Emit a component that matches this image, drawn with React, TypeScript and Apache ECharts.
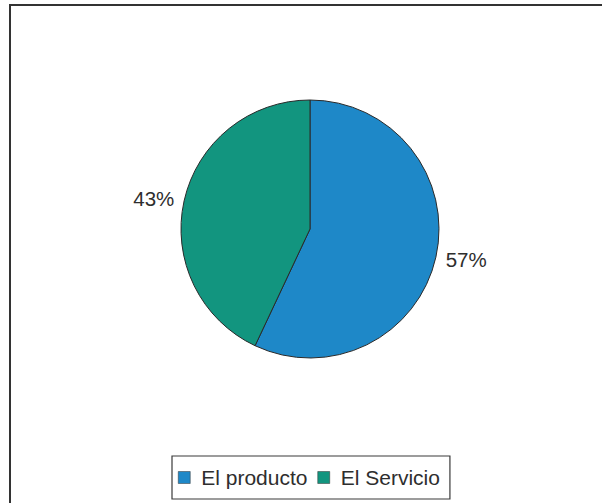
import React, { useEffect, useRef } from "react";
import * as echarts from "echarts";

const categories = ["El producto", "El Servicio"];
const values = [57, 43];
const colors = ["#1e88c8", "#12957f"];

export default function App() {
  const ref = useRef<HTMLDivElement>(null);
  useEffect(() => {
    document.body.style.margin = "0";
    const chart = echarts.init(ref.current!, null, { renderer: "svg" });
    chart.setOption({
      animation: false,
      backgroundColor: "#ffffff",
      textStyle: { fontFamily: "Liberation Sans, Arial, sans-serif" },
      graphic: [
        {
          type: "rect",
          shape: { x: 10, y: 5, width: 640, height: 540 },
          style: { fill: "none", stroke: "#333333", lineWidth: 2 },
          silent: true,
        },
      ],
      legend: {
        data: categories,
        left: 172,
        top: 456,
        orient: "horizontal",
        itemWidth: 12,
        itemHeight: 12,
        itemGap: 10,
        itemStyle: { borderColor: "#333333", borderWidth: 0.5 },
        padding: [11, 10, 11, 6],
        borderColor: "#3a3a3a",
        borderWidth: 1.2,
        icon: "rect",
        textStyle: {
          fontSize: 21,
          color: "#2e2e2e",
          padding: [0, 0, 0, 6],
          fontFamily: "Liberation Sans, Arial, sans-serif",
        },
      },
      series: [
        {
          type: "pie",
          center: [310, 229],
          radius: 129,
          startAngle: 90,
          clockwise: true,
          avoidLabelOverlap: false,
          data: categories.map((c, i) => ({
            name: c,
            value: values[i],
            itemStyle: { color: colors[i] },
          })),
          itemStyle: { borderColor: "#2a2a2a", borderWidth: 1 },
          label: {
            show: true,
            position: "outside",
            formatter: "{d}%",
            fontSize: 20.5,
            color: "#2e2e2e",
            fontFamily: "Liberation Sans, Arial, sans-serif",
            distanceToLabelLine: 0,
          },
          labelLine: { show: false, length: 10, length2: 0 },
          emphasis: { disabled: true },
        },
      ],
    });
    return () => chart.dispose();
  }, []);
  return <div ref={ref} style={{ width: 602, height: 503 }} />;
}
